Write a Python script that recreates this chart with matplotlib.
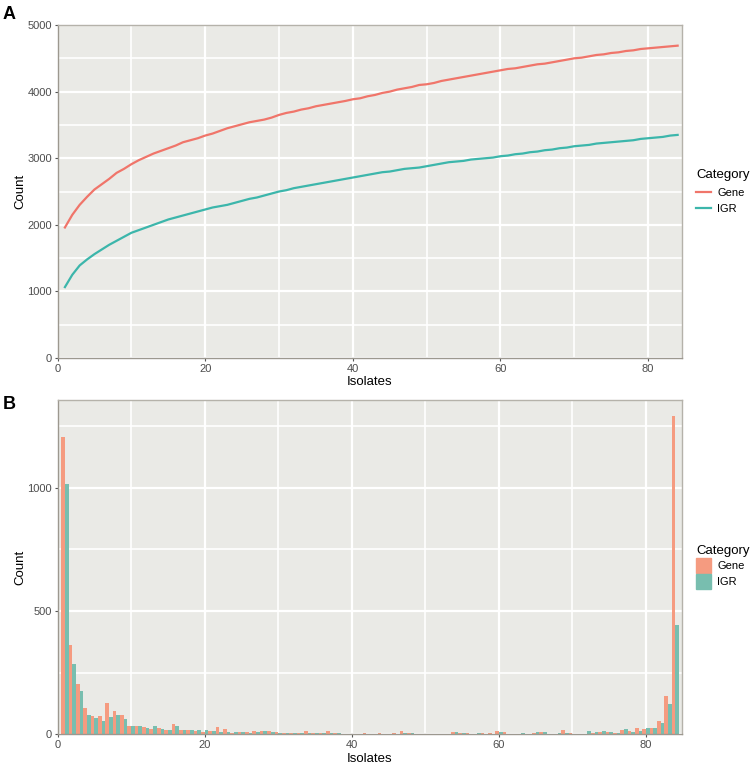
import matplotlib
matplotlib.use('Agg')
from matplotlib import pyplot as plt
from matplotlib.lines import Line2D
from matplotlib.patches import Patch
import numpy as np

plt.rcParams['font.family'] = ['Liberation Sans', 'DejaVu Sans']

isolates = np.arange(1, 85)

# panel A: accumulation curves
gene_curve = [1960, 2150, 2300, 2420, 2530, 2610, 2690, 2780, 2840, 2910,
              2970, 3020, 3070, 3110, 3150, 3190, 3240, 3270, 3300, 3340,
              3370, 3410, 3450, 3480, 3510, 3540, 3560, 3580, 3610, 3650,
              3680, 3700, 3730, 3750, 3780, 3800, 3820, 3840, 3860, 3885,
              3900, 3930, 3950, 3980, 4000, 4030, 4050, 4070, 4100, 4110,
              4130, 4160, 4180, 4200, 4220, 4240, 4260, 4280, 4300, 4320,
              4340, 4350, 4370, 4390, 4410, 4420, 4440, 4460, 4480, 4500,
              4510, 4530, 4550, 4560, 4580, 4590, 4610, 4620, 4640, 4650,
              4660, 4670, 4680, 4690]
igr_curve = [1065, 1250, 1390, 1480, 1560, 1630, 1700, 1760, 1820, 1880,
             1920, 1960, 2000, 2040, 2080, 2110, 2140, 2170, 2200, 2230,
             2260, 2280, 2300, 2330, 2360, 2390, 2410, 2440, 2470, 2500,
             2520, 2550, 2570, 2590, 2610, 2630, 2650, 2670, 2690, 2710,
             2730, 2750, 2770, 2790, 2800, 2820, 2840, 2850, 2860, 2880,
             2900, 2920, 2940, 2950, 2960, 2980, 2990, 3000, 3010, 3030,
             3040, 3060, 3070, 3090, 3100, 3120, 3130, 3150, 3160, 3180,
             3190, 3200, 3220, 3230, 3240, 3250, 3260, 3270, 3290, 3300,
             3310, 3320, 3340, 3350]

# panel B: frequency distribution
gene_counts = [1205, 362, 205, 108, 75, 73, 126, 95, 77, 33,
               35, 29, 20, 25, 16, 41, 17, 16, 13, 10,
               12, 30, 22, 7, 8, 9, 15, 14, 15, 8,
               7, 6, 5, 12, 6, 5, 15, 7, 3, 2,
               3, 6, 3, 6, 2, 4, 12, 4, 2, 2,
               3, 2, 3, 9, 6, 4, 3, 5, 4, 14,
               8, 2, 3, 3, 4, 9, 2, 2, 18, 7,
               2, 3, 5, 8, 11, 5, 18, 15, 24, 23,
               27, 54, 155, 1290]
igr_counts = [1013, 284, 174, 79, 66, 55, 72, 77, 64, 35,
              33, 27, 35, 23, 17, 34, 17, 16, 17, 17,
              13, 11, 10, 9, 8, 7, 8, 12, 9, 5,
              7, 5, 6, 7, 5, 4, 7, 5, 3, 2,
              2, 3, 2, 3, 2, 3, 6, 7, 2, 2,
              2, 3, 2, 8, 4, 3, 4, 3, 3, 8,
              3, 2, 4, 2, 8, 8, 2, 7, 4, 3,
              2, 14, 8, 14, 11, 4, 23, 11, 14, 27,
              26, 47, 123, 443]

gene_line_col = '#F0756A'
igr_line_col = '#3CB6AB'
gene_bar_col = '#F59B80'
igr_bar_col = '#78BEAF'
panel_bg = '#EAEAE6'


def style_axes(ax, xmax, ymax, ymaj, ymin):
    ax.set_facecolor(panel_bg)
    ax.set_xlim(0, xmax)
    ax.set_ylim(0, ymax)
    ax.set_xticks([0, 20, 40, 60, 80])
    ax.set_xticks([10, 30, 50, 70], minor=True)
    ax.set_yticks(ymaj)
    ax.set_yticks(ymin, minor=True)
    ax.grid(True, which='major', color='white', lw=1.6)
    ax.grid(True, which='minor', color='white', lw=1.2)
    ax.set_axisbelow(True)
    ax.tick_params(which='major', length=2.5, width=0.8, color='#555555',
                   labelsize=8, labelcolor='#4D4D4D', pad=1.5)
    ax.tick_params(which='minor', length=0)
    for s in ax.spines.values():
        s.set_color('#B5B2AA')
        s.set_linewidth(1.0)
    ax.spines['left'].set_color('#9C988F')
    ax.spines['bottom'].set_color('#9C988F')
    ax.set_xlabel('Isolates', fontsize=9.5, labelpad=2)
    ax.set_ylabel('Count', fontsize=9.5, labelpad=1)


fig = plt.figure(figsize=(7.52, 7.65), dpi=100)

ax1 = fig.add_axes([0.0765, 0.532, 0.8305, 0.4353])
ax1.plot(isolates, gene_curve, color=gene_line_col, lw=1.6)
ax1.plot(isolates, igr_curve, color=igr_line_col, lw=1.6)
style_axes(ax1, 84.6, 5000, [0, 1000, 2000, 3000, 4000, 5000],
           [500, 1500, 2500, 3500, 4500])
handles1 = [Line2D([], [], color=gene_line_col, lw=1.6),
            Line2D([], [], color=igr_line_col, lw=1.6)]
ax1.legend(handles1, ['Gene', 'IGR'], title='Category', loc='center left',
           bbox_to_anchor=(1.01, 0.5), frameon=False, fontsize=8,
           title_fontsize=9.5, handlelength=1.3, alignment='left',
           borderaxespad=0.3, labelspacing=0.6, handletextpad=0.6)

ax2 = fig.add_axes([0.0765, 0.0401, 0.8305, 0.437])
ax2.bar(isolates - 0.25, gene_counts, width=0.5, color=gene_bar_col)
ax2.bar(isolates + 0.25, igr_counts, width=0.5, color=igr_bar_col)
style_axes(ax2, 84.9, 1355, [0, 500, 1000], [250, 750, 1250])
handles2 = [Patch(color=gene_bar_col), Patch(color=igr_bar_col)]
ax2.legend(handles2, ['Gene', 'IGR'], title='Category', loc='center left',
           bbox_to_anchor=(1.01, 0.5), frameon=False, fontsize=8,
           title_fontsize=9.5, handlelength=1.3, handleheight=1.7,
           alignment='left', borderaxespad=0.3, labelspacing=0.1,
           handletextpad=0.6)

fig.text(0.004, 0.992, 'A', fontsize=13, fontweight='bold', va='top')
fig.text(0.004, 0.482, 'B', fontsize=13, fontweight='bold', va='top')

fig.savefig('out.png', dpi=100)
